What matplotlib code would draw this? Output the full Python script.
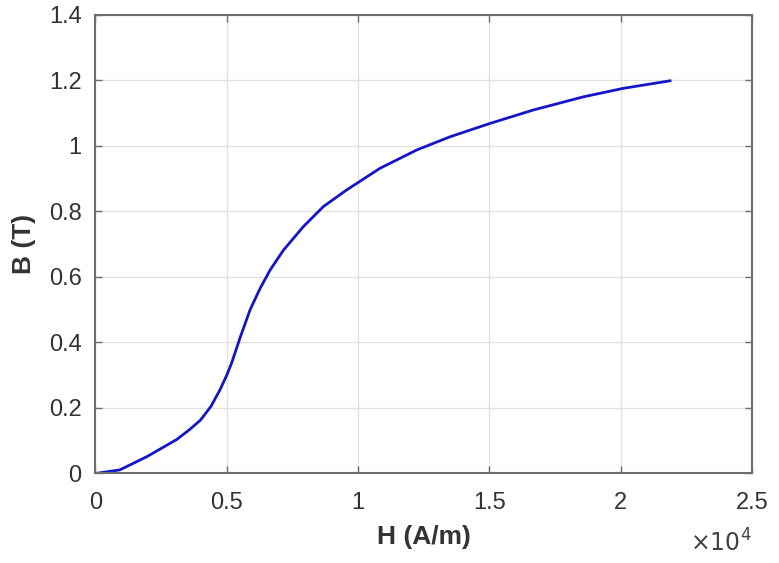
import numpy as np
import matplotlib.pyplot as plt
from matplotlib.ticker import FuncFormatter

# B-H curve
H = [0, 930, 1950, 3100, 3600, 4000, 4400, 4740, 5000, 5180, 5510, 5890,
     6270, 6650, 7160, 7920, 8680, 9570, 10840, 12240, 13500, 15030,
     16680, 18580, 20100, 21880]
B = [0, 0.011, 0.051, 0.104, 0.135, 0.163, 0.205, 0.255, 0.30, 0.336, 0.415,
     0.50, 0.565, 0.621, 0.682, 0.754, 0.815, 0.866, 0.932, 0.988, 1.028,
     1.069, 1.11, 1.15, 1.176, 1.199]

xticks = [0, 5000, 10000, 15000, 20000, 25000]
yticks = [0, 0.2, 0.4, 0.6, 0.8, 1, 1.2, 1.4]

plt.rcParams['font.family'] = ['Liberation Sans', 'DejaVu Sans']

fig = plt.figure(figsize=(7.79, 5.63), dpi=100)
ax = fig.add_axes([0.1225, 0.159, 0.8428, 0.8144])

ax.plot(H, B, color='#1515c8', lw=2.0)

ax.set_xlim(0, 25000)
ax.set_ylim(0, 1.4)
ax.set_xticks(xticks)
ax.set_yticks(yticks)
ax.xaxis.set_major_formatter(FuncFormatter(lambda v, p: '%g' % (v / 1e4)))
ax.yaxis.set_major_formatter(FuncFormatter(lambda v, p: '%g' % v))

ax.grid(True, color='#e2e2e2', lw=1.0)
ax.set_axisbelow(True)
for s in ax.spines.values():
    s.set_color('#6e6e6e')
    s.set_linewidth(1.5)
ax.tick_params(direction='in', length=5, width=1.0, color='#6e6e6e',
               labelsize=17, labelcolor='#333333', top=True, right=True)
ax.tick_params(axis='x', pad=13)
ax.tick_params(axis='y', pad=10)

ax.set_xlabel('H (A/m)', fontsize=19, fontweight='bold', color='#333333', labelpad=8)
ax.set_ylabel('B (T)', fontsize=19, fontweight='bold', color='#333333', labelpad=9)
fig.text(0.965, 0.012, r'$\times10^{4}$', ha='right', va='bottom',
         fontsize=17, color='#444444', math_fontfamily='dejavusans')

fig.savefig('out.png', dpi=100, facecolor='white')
